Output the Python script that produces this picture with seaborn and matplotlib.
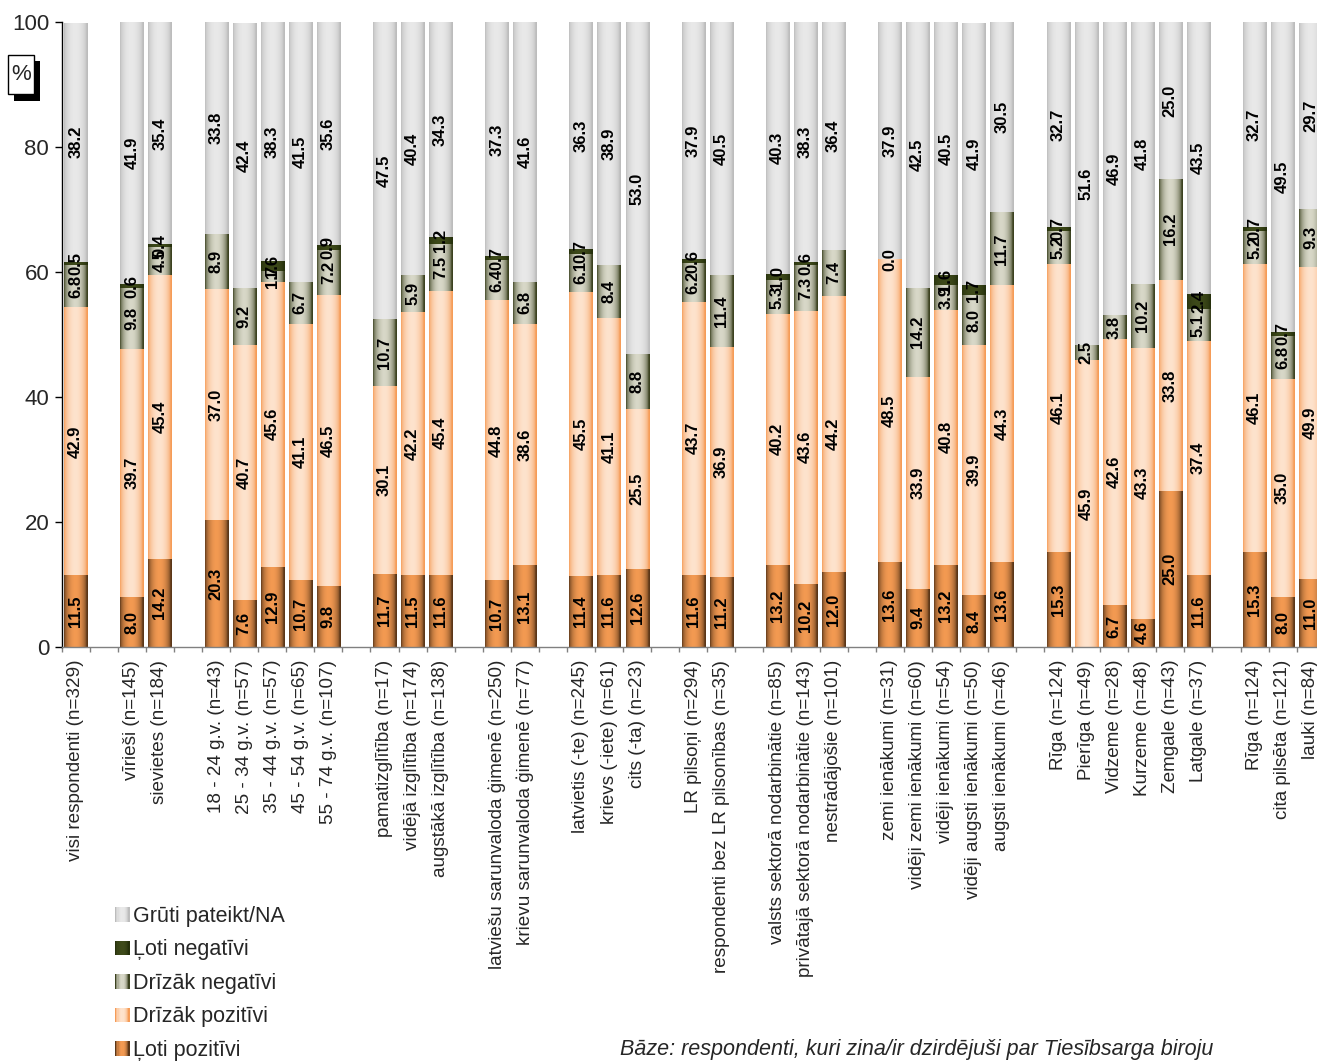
import matplotlib.pyplot as plt
import numpy as np
import pandas as pd
import seaborn as sns
from matplotlib.colors import to_rgb
from matplotlib.legend_handler import HandlerBase
from matplotlib.patches import Rectangle

sns.set_theme(style="white")
plt.rcParams["font.family"] = ["Liberation Sans", "DejaVu Sans"]

nan = np.nan

# respondent groups, a blank slot is left between groups
groups = [
    ["visi respondenti (n=329)"],
    ["vīrieši (n=145)", "sievietes (n=184)"],
    ["18 - 24 g.v. (n=43)", "25 - 34 g.v. (n=57)", "35 - 44 g.v. (n=57)",
     "45 - 54 g.v. (n=65)", "55 - 74 g.v. (n=107)"],
    ["pamatizglītība (n=17)", "vidējā izglītība (n=174)", "augstākā izglītība (n=138)"],
    ["latviešu sarunvaloda ģimenē (n=250)", "krievu sarunvaloda ģimenē (n=77)"],
    ["latvietis (-te) (n=245)", "krievs (-iete) (n=61)", "cits (-ta) (n=23)"],
    ["LR pilsoņi (n=294)", "respondenti bez LR pilsonības (n=35)"],
    ["valsts sektorā nodarbinātie (n=85)", "privātajā sektorā nodarbinātie (n=143)",
     "nestrādājošie (n=101)"],
    ["zemi ienākumi (n=31)", "vidēji zemi ienākumi (n=60)", "vidēji ienākumi (n=54)",
     "vidēji augsti ienākumi (n=50)", "augsti ienākumi (n=46)"],
    ["Rīga (n=124)", "Pierīga (n=49)", "Vidzeme (n=28)", "Kurzeme (n=48)",
     "Zemgale (n=43)", "Latgale (n=37)"],
    ["Rīga (n=124)", "cita pilsēta (n=121)", "lauki (n=84)"],
]

loti_poz = [11.5, 8.0, 14.2, 20.3, 7.6, 12.9, 10.7, 9.8, 11.7, 11.5, 11.6, 10.7, 13.1,
            11.4, 11.6, 12.6, 11.6, 11.2, 13.2, 10.2, 12.0, 13.6, 9.4, 13.2, 8.4, 13.6,
            15.3, nan, 6.7, 4.6, 25.0, 11.6, 15.3, 8.0, 11.0]
drizak_poz = [42.9, 39.7, 45.4, 37.0, 40.7, 45.6, 41.1, 46.5, 30.1, 42.2, 45.4, 44.8, 38.6,
              45.5, 41.1, 25.5, 43.7, 36.9, 40.2, 43.6, 44.2, 48.5, 33.9, 40.8, 39.9, 44.3,
              46.1, 45.9, 42.6, 43.3, 33.8, 37.4, 46.1, 35.0, 49.9]
drizak_neg = [6.8, 9.8, 4.5, 8.9, 9.2, 1.7, 6.7, 7.2, 10.7, 5.9, 7.5, 6.4, 6.8,
              6.1, 8.4, 8.8, 6.2, 11.4, 5.3, 7.3, 7.4, 0.0, 14.2, 3.9, 8.0, 11.7,
              5.2, 2.5, 3.8, 10.2, 16.2, 5.1, 5.2, 6.8, 9.3]
loti_neg = [0.5, 0.6, 0.4, nan, nan, 1.6, nan, 0.9, nan, nan, 1.2, 0.7, nan,
            0.7, nan, nan, 0.6, nan, 1.0, 0.6, nan, nan, nan, 1.6, 1.7, nan,
            0.7, nan, nan, nan, nan, 2.4, 0.7, 0.7, nan]
gruti = [38.2, 41.9, 35.4, 33.8, 42.4, 38.3, 41.5, 35.6, 47.5, 40.4, 34.3, 37.3, 41.6,
         36.3, 38.9, 53.0, 37.9, 40.5, 40.3, 38.3, 36.4, 37.9, 42.5, 40.5, 41.9, 30.5,
         32.7, 51.6, 46.9, 41.8, 25.0, 43.5, 32.7, 49.5, 29.7]

# stacking order bottom -> top, with (edge colour, centre colour) of the gradient
layers = [
    ("Ļoti pozitīvi", loti_poz, "#5a3618", "#f39a52"),
    ("Drīzāk pozitīvi", drizak_poz, "#f59c58", "#fee3cd"),
    ("Drīzāk negatīvi", drizak_neg, "#3c4220", "#d8d8c8"),
    ("Ļoti negatīvi", loti_neg, "#26300c", "#3e4a1a"),
    ("Grūti pateikt/NA", gruti, "#bcbcbc", "#e9e9e9"),
]

labels = [lab for g in groups for lab in g]
keys = [f"b{i}" for i in range(len(labels))]
order = []
i = 0
for gi, g in enumerate(groups):
    if gi:
        order.append(f"gap{gi}")
    for _ in g:
        order.append(keys[i])
        i += 1

df = pd.DataFrame({"key": keys, "label": labels})
for name, vals, _, _ in layers:
    df[name] = vals


def gradient(edge, center, n=64):
    t = np.linspace(0, 1, n)
    w = np.sin(np.pi * np.clip(t * 1.05, 0, 1)) ** 0.55
    e, c = np.array(to_rgb(edge)), np.array(to_rgb(center))
    return (e[None, :] * (1 - w[:, None]) + c[None, :] * w[:, None])[None, :, :]


W, H = 1317, 1061
fig = plt.figure(figsize=(W / 100, H / 100), dpi=100)
ax = fig.add_axes([61.7 / W, 413.7 / H, 1263 / W, 625 / H])

bottom = np.zeros(len(df))
for name, vals, edge, center in layers:
    vals = np.array(vals, dtype=float)
    df["h"] = np.nan_to_num(vals)
    n0 = len(ax.patches)
    sns.barplot(data=df, x="key", y="h", order=order, width=0.82, errorbar=None,
                color=center, ax=ax)
    img = gradient(edge, center)
    for p, b, hh, v in zip(ax.patches[n0:], bottom, df["h"], vals):
        p.set_y(b)
        p.set_visible(False)
        x0, w = p.get_x(), p.get_width()
        if hh > 0:
            ax.imshow(img, extent=(x0, x0 + w, b, b + hh), aspect="auto",
                      interpolation="bilinear", zorder=2)
        if not np.isnan(v):
            ax.text(x0 + w / 2, b + hh / 2, f"{v:.1f}", rotation=90, ha="center",
                    va="center", fontsize=12, fontweight="bold", color="black", zorder=5)
    bottom = bottom + df["h"].to_numpy()

ax.set_xlim(-0.5, len(order) - 0.5)
ax.set_ylim(0, 100)
ax.set_xlabel("")
ax.set_ylabel("")
ax.set_yticks(range(0, 101, 20))
ax.tick_params(axis="y", labelsize=16, length=5, width=1, color="black",
               direction="out", left=True, pad=4)
bar_pos = [order.index(k) for k in keys]
ax.set_xticks(bar_pos, labels, rotation=90, fontsize=13.6)
ax.set_xticks(np.arange(-0.5, len(order), 1), minor=True)
ax.tick_params(axis="x", which="major", length=0, pad=9)
ax.tick_params(axis="x", which="minor", length=3.5, width=1, color="#808080",
               direction="out", bottom=True)
for s in ["top", "right"]:
    ax.spines[s].set_visible(False)
ax.spines["left"].set_color("black")
ax.spines["left"].set_linewidth(1)
ax.spines["bottom"].set_color("#808080")
ax.spines["bottom"].set_linewidth(1)
ax.grid(False)


# legend with gradient swatches
class Swatch:
    def __init__(self, edge, center):
        self.edge, self.center = edge, center


class SwatchHandler(HandlerBase):
    def create_artists(self, legend, orig_handle, xdescent, ydescent, width, height,
                       fontsize, trans):
        cols = gradient(orig_handle.edge, orig_handle.center, n=12)[0]
        n = len(cols)
        return [Rectangle((-xdescent + width * k / n, -ydescent), width / n, height,
                          facecolor=c, edgecolor="none", transform=trans)
                for k, c in enumerate(cols)]


handles = [Swatch(e, c) for _, _, e, c in layers][::-1]
names = [n for n, _, _, _ in layers][::-1]
fig.legend(handles, names, handler_map={Swatch: SwatchHandler()}, loc="upper left",
           bbox_to_anchor=(115 / W, 1 - 906 / H), frameon=False, fontsize=15.5,
           handlelength=0.68, handleheight=0.68, handletextpad=0.15, labelspacing=0.58,
           borderpad=0, borderaxespad=0)

fig.text(1213 / W, 1 - 1050 / H,
         "Bāze: respondenti, kuri zina/ir dzirdējuši par Tiesībsarga biroju",
         ha="right", va="center", fontsize=15.5, fontstyle="italic")

# "%" box with a drop shadow
fig.add_artist(Rectangle((14 / W, 1 - 101 / H), 26 / W, 40 / H, transform=fig.transFigure,
                         facecolor="black", edgecolor="none"))
fig.add_artist(Rectangle((8.3 / W, 1 - 94.3 / H), 26 / W, 39.3 / H,
                         transform=fig.transFigure, facecolor="white",
                         edgecolor="black", linewidth=1))
fig.text(21.3 / W, 1 - 75 / H, "%", ha="center", va="center", fontsize=16)

fig.savefig("out.png", dpi=100)
